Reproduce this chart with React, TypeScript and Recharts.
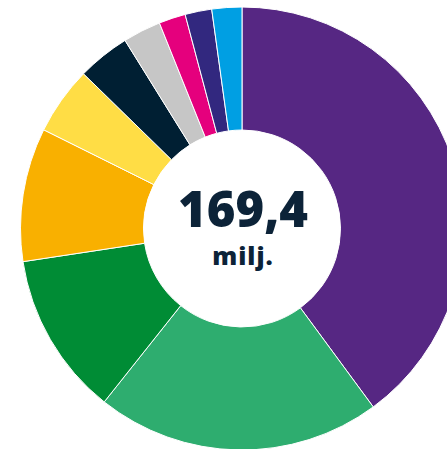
import React from "react";
import { PieChart, Pie, Cell, Label } from "recharts";

const categories = ["A", "B", "C", "D", "E", "F", "G", "H", "I", "J"];
const values = [67.6, 35.2, 20.2, 16.5, 8.4, 6.5, 4.7, 3.3, 3.3, 3.7];
const colors = [
  "#562783",
  "#2EAD6F",
  "#008C35",
  "#F9B000",
  "#FFDD45",
  "#001F33",
  "#C6C6C6",
  "#E5007D",
  "#32287F",
  "#009FE3",
];
const totalLabel = "169,4";
const unitLabel = "milj.";

const data = categories.map((name, i) => ({ name, value: values[i] }));

const CX = 242;
const CY = 228.5;

const CenterLabel = () => {
  return (
    <g>
      <text
        x={CX + 1}
        y={CY - 1.5}
        textAnchor="middle"
        fill="#0C2338"
        style={{ fontFamily: "'Open Sans', sans-serif", fontWeight: 800, fontSize: 49 }}
      >
        {totalLabel}
      </text>
      <text
        x={CX + 1}
        y={CY + 36.5}
        textAnchor="middle"
        fill="#0C2338"
        style={{ fontFamily: "'Open Sans', sans-serif", fontWeight: 800, fontSize: 25, letterSpacing: 1 }}
      >
        {unitLabel}
      </text>
    </g>
  );
};

export default function App() {
  return (
    <div style={{ position: "absolute", left: 0, top: 0, width: 447, height: 449, background: "#fff" }}>
      <PieChart width={447} height={449} margin={{ top: 0, right: 0, bottom: 0, left: 0 }}>
        <Pie
          data={data}
          dataKey="value"
          nameKey="name"
          cx={CX}
          cy={CY}
          innerRadius={98.5}
          outerRadius={221.5}
          startAngle={90}
          endAngle={-270}
          stroke="#ffffff"
          strokeWidth={1}
          isAnimationActive={false}
        >
          {data.map((d, i) => (
            <Cell key={d.name} fill={colors[i]} />
          ))}
          <Label position="center" content={<CenterLabel />} />
        </Pie>
      </PieChart>
    </div>
  );
}
